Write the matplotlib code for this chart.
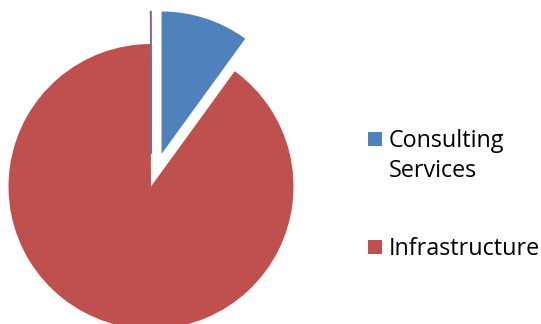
"""Pie chart: share of consulting services vs infrastructure."""

import matplotlib

matplotlib.use("Agg")
import matplotlib.pyplot as plt
from matplotlib.patches import Rectangle

labels = ["Consulting\nServices", "Infrastructure", ""]
values = [10, 90, 0.05]
colors = ["#4F81BD", "#C0504D", "#8064A2"]
explode = [0.24, 0.0, 0.23]

fig = plt.figure(figsize=(5.41, 3.24), dpi=100)
ax = fig.add_axes([0, 0, 1, 1])

wedges, _ = ax.pie(
    values,
    colors=colors,
    explode=explode,
    startangle=90,
    counterclock=False,
    radius=1.0,
    wedgeprops={"linewidth": 0},
)
# the near-zero slice only shows as a thin line
wedges[2].set_edgecolor(colors[2])
wedges[2].set_linewidth(1.0)

ax.set_xlim(-1.0596, 2.7368)
ax.set_ylim(-0.9649, 1.3088)
ax.set_aspect("auto")
ax.axis("off")

# legend drawn by hand, Excel style: square next to the first text line
W, H = 541.0, 324.0
entries = [(0, 132), (1, 240)]
for idx, top in entries:
    fig.patches.append(
        Rectangle(
            (368 / W, 1 - (top + 14) / H),
            14 / W,
            14 / H,
            transform=fig.transFigure,
            facecolor=colors[idx],
            edgecolor="none",
        )
    )
    for n, line in enumerate(labels[idx].split("\n")):
        fig.text(
            389 / W,
            1 - (top + 15 + 30 * n) / H,
            line,
            fontsize=16.8,
            family="Open Sans",
            color="black",
            va="baseline",
            ha="left",
        )

fig.savefig("out.png", dpi=100)
